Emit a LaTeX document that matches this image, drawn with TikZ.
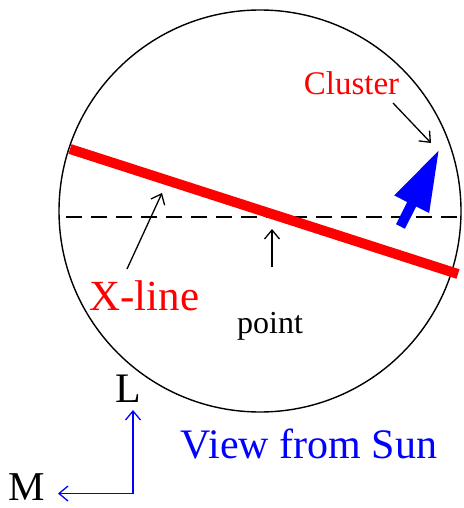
\documentclass[tikz,border=0pt]{standalone}
\usepackage{fontspec}
\setmainfont{Liberation Serif}
\usetikzlibrary{arrows.meta}
\begin{document}
\begin{tikzpicture}[x=1pt,y=-1pt,
  pointer/.style={draw=black, line width=1.3pt, -{Straight Barb[length=9pt,width=15pt]}},
  axis/.style={draw=blue, line width=1.3pt, -{Straight Barb[length=9pt,width=15pt]}},
  lbl/.style={inner sep=0pt, anchor=base}]
\useasboundingbox (0,0) rectangle (463,508);
% circle
\node[draw=black, line width=1.4pt, circle, minimum size=402pt, inner sep=0pt] (disk) at (260,211) {};
% dashed line
\coordinate (dL) at (66,217);
\coordinate (dR) at (461,217);
\draw[black, line width=1.3pt, dash pattern=on 16pt off 9pt] (dL) -- (dR);
% X-line
\coordinate (xa) at (70,149);
\coordinate (xb) at (458,274);
\draw[red, line width=10pt] (xa) -- (xb);
% cluster arrow
\coordinate (cb) at (400.5,226.5);
\coordinate (ct) at (439.3,149.3);
\draw[blue, line width=10pt, -{Triangle[length=61.5pt,width=36pt]}] (cb) -- (ct);
% labels
\node[lbl, text=red, font=\fontsize{33}{36}\selectfont] (cluster) at (351.5,95) {Cluster};
\node[lbl, text=red, font=\fontsize{43}{46}\selectfont] (xline) at (144.5,310) {X-line};
\node[lbl, text=black, font=\fontsize{32}{34}\selectfont] (point) at (270,333) {point};
\node[lbl, text=blue, font=\fontsize{42}{46}\selectfont] (view) at (309,458) {View from Sun};
\node[lbl, text=black, font=\fontsize{42}{46}\selectfont] (L) at (128.5,402) {L};
\node[lbl, text=black, font=\fontsize{41}{44}\selectfont] (M) at (26.5,500) {M};
% pointers
\coordinate (c1) at (393,103);
\coordinate (c2) at (431,143);
\draw[pointer] (c1) -- (c2);
\coordinate (x1) at (127,269);
\coordinate (x2) at (162,193);
\draw[pointer] (x1) -- (x2);
\coordinate (p1) at (272,267);
\coordinate (p2) at (272,229);
\draw[pointer] (p1) -- (p2);
% axes
\coordinate (o) at (133,493.5);
\coordinate (lt) at (133,410);
\coordinate (mt) at (58,493.5);
\draw[axis] (o) -- (lt);
\draw[axis] (o) -- (mt);
\end{tikzpicture}
\end{document}
